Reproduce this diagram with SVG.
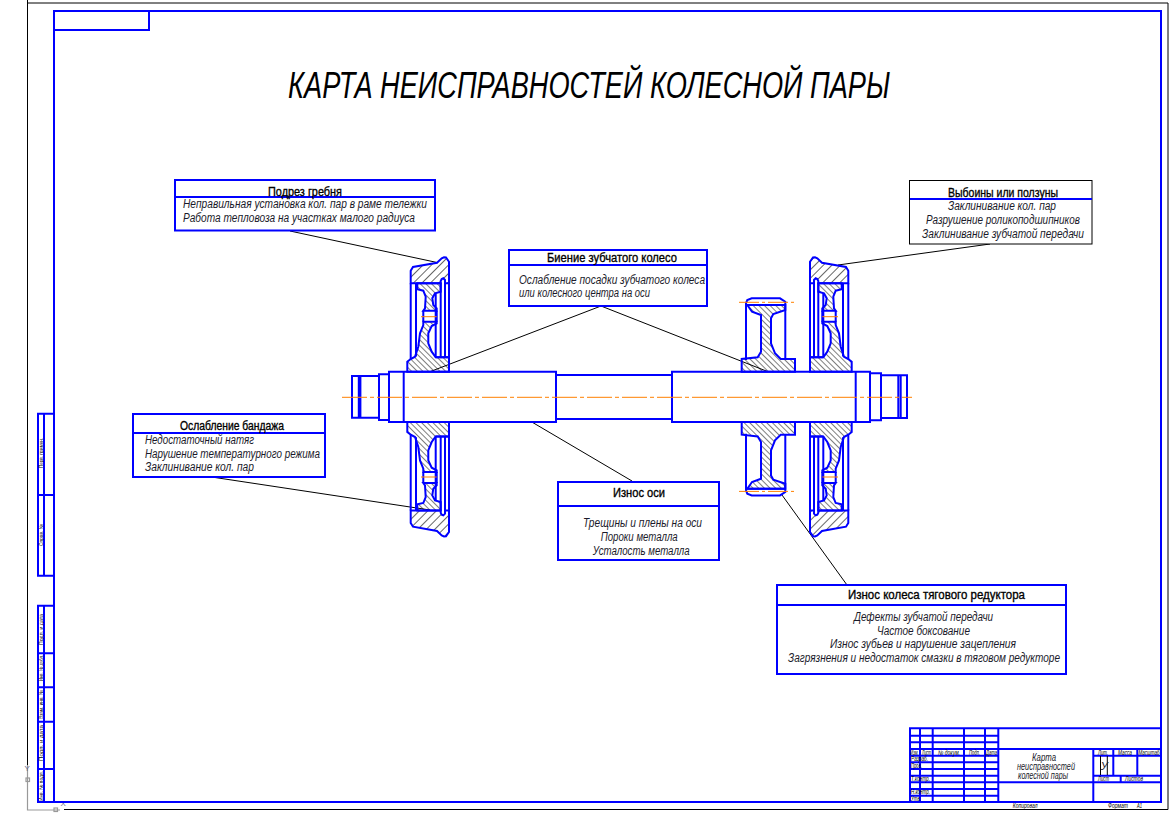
<svg xmlns="http://www.w3.org/2000/svg" xmlns:xlink="http://www.w3.org/1999/xlink" width="1175" height="813" viewBox="0 0 1175 813">
<style>
.b{fill:none;stroke:#0000ff;stroke-width:2}
.box{fill:#fff;stroke:#0000ff;stroke-width:2}
.boxk{fill:#fff;stroke:#000;stroke-width:1}
.k{fill:none;stroke:#000;stroke-width:1}
.o{fill:none;stroke:#ff8000;stroke-width:1}
.dd{stroke-dasharray:20 3 3 3}
text{font-family:"Liberation Sans",Arial,sans-serif;font-style:italic;fill:#1a1a2a}
.t{font-size:12.5px;font-style:normal;fill:#000;stroke:#000;stroke-width:.35}
.l{font-size:12px}
.s{font-size:6.5px;fill:#000}
.r{font-size:5.5px;font-style:normal;fill:#000}
.g{fill:none;stroke:#999;stroke-width:1.2}
</style>
<defs>
<pattern id="hA" patternUnits="userSpaceOnUse" width="6" height="6" patternTransform="rotate(45)"><line x1="0" y1="0" x2="0" y2="6" stroke="#000" stroke-width="1.2"/></pattern>
<pattern id="hAm" patternUnits="userSpaceOnUse" width="6" height="6" patternTransform="rotate(-45)"><line x1="0" y1="0" x2="0" y2="6" stroke="#000" stroke-width="1.2"/></pattern>
<pattern id="hB" patternUnits="userSpaceOnUse" width="4" height="4" patternTransform="rotate(-45)"><line x1="0" y1="0" x2="0" y2="4" stroke="#000" stroke-width="1"/></pattern>
<pattern id="hBm" patternUnits="userSpaceOnUse" width="4" height="4" patternTransform="rotate(45)"><line x1="0" y1="0" x2="0" y2="4" stroke="#000" stroke-width="1"/></pattern>
<path id="tire" d="M410.7 283.3V270.7L413 267L437 262.7L441.7 258.3L444 257.3L446 257.5L449 261.7V283.3H445V280L443.3 278.3L441.7 279L440.7 281V283.3Z"/>
<path id="web" d="M417.3 283.3V289.3L423.3 290.7L425.7 296.7L425 308.3L423.3 310.7H436.7V308.3L433.3 305L432.3 298.3L435 293.3L440.7 291.7V283.3Z"/>
<path id="hub" d="M423.3 321.7H436.7V323.3L431.7 326L428.3 333.3V343.3L431.7 351.7L435.7 357.3H449V371.7H407.3V361.7L410.7 359L415 356.7L418.3 346.7L420 333.3L423.3 325Z"/>
<path id="wl" d="M410.7 283.3V359M416 283.3V356.5M440.7 283.3V357.3M445 283.3V357.3M449 283.3V357.3M435.7 293.3V357.3M435.7 357.3H449M423.3 310.7V321.7M436.7 310.7V321.7"/>
<path id="rim" d="M746 360V303.3L747.3 300L751.7 298.3H780L785.3 301.7V359M746 305H785.3"/>
<path id="gweb" d="M747.3 305L752 311.7L761 315V351.7L757.7 357.3L741.7 359V371.7H795V359H780.7L775 353.3L771 343.3V318.3L773.3 314L785.3 310V305Z"/>
</defs>
<rect width="1175" height="813" fill="#fff"/>

<g id="sheet">
<path class="k" d="M27.5 0V765M64 809.5H1168V3H27.5"/>
<path class="g" d="M27.5 765V810H60"/>
<rect x="26" y="778" width="3.500" height="3.500" class="g"/>
<rect x="54" y="808" width="3.500" height="3.500" class="g"/>
<text x="24.500" y="771" font-size="8" style="font-style:normal;fill:#668">Y</text>
<text x="60.500" y="806" font-size="8" style="font-style:normal;fill:#668">X</text>
<rect class="b" x="54" y="11" width="1107" height="791"/>
<path class="b" d="M54 30H149V11"/>
<path class="b" d="M54 413.700H38V575.700H54M44 413.700V575.700M38 495H54M54 605.700H38V802H54M44 605.700V802M38 653.300H54M38 687.300H54M38 721.700H54M38 769H54"/>
<text class="r" transform="translate(42.500,468) rotate(-90)" textLength="30" lengthAdjust="spacingAndGlyphs">Перв. примен.</text>
<text class="r" transform="translate(42.500,546) rotate(-90)" textLength="22" lengthAdjust="spacingAndGlyphs">Справ. №</text>
<text class="r" transform="translate(42.500,645) rotate(-90)" textLength="31" lengthAdjust="spacingAndGlyphs">Подп. и дата</text>
<text class="r" transform="translate(42.500,681) rotate(-90)" textLength="26" lengthAdjust="spacingAndGlyphs">Инв. № дубл.</text>
<text class="r" transform="translate(42.500,719) rotate(-90)" textLength="29" lengthAdjust="spacingAndGlyphs">Взам. инв. №</text>
<text class="r" transform="translate(42.500,761) rotate(-90)" textLength="36" lengthAdjust="spacingAndGlyphs">Подп. и дата</text>
<text class="r" transform="translate(42.500,801) rotate(-90)" textLength="30" lengthAdjust="spacingAndGlyphs">Инв. № подл.</text>
</g>

<text id="title" x="288" y="98" font-size="36" textLength="602" lengthAdjust="spacingAndGlyphs" style="fill:#000">КАРТА НЕИСПРАВНОСТЕЙ КОЛЕСНОЙ ПАРЫ</text>

<g id="connectors">
<path class="k" d="M290 231L438 262.700"/>
<path class="k" d="M601 306L430 371.700M601 306L768 371.700"/>
<path class="k" d="M215 477.500L430 510"/>
<path class="k" d="M533 422.700L632 481"/>
<path class="k" d="M838 265L990 244"/>
<path class="k" d="M782 495L847 585"/>
</g>

<g id="wheel-left">
<g><use href="#tire" fill="url(#hA)"/><use href="#tire" class="b"/><use href="#web" fill="url(#hB)"/><use href="#web" class="b"/><use href="#hub" fill="url(#hB)"/><use href="#hub" class="b"/><use href="#wl" class="b"/><path class="o" d="M421 316.700H436.700"/></g>
<g transform="matrix(1,0,0,-1,0,793.700)"><use href="#tire" fill="url(#hAm)"/><use href="#tire" class="b"/><use href="#web" fill="url(#hBm)"/><use href="#web" class="b"/><use href="#hub" fill="url(#hBm)"/><use href="#hub" class="b"/><use href="#wl" class="b"/><path class="o" d="M421 316.700H436.700"/></g>
</g>
<g id="wheel-right">
<g transform="matrix(-1,0,0,1,1259,0)"><use href="#tire" fill="url(#hAm)"/><use href="#tire" class="b"/><use href="#web" fill="url(#hBm)"/><use href="#web" class="b"/><use href="#hub" fill="url(#hBm)"/><use href="#hub" class="b"/><use href="#wl" class="b"/><path class="o" d="M421 316.700H436.700"/></g>
<g transform="matrix(-1,0,0,-1,1259,793.700)"><use href="#tire" fill="url(#hA)"/><use href="#tire" class="b"/><use href="#web" fill="url(#hB)"/><use href="#web" class="b"/><use href="#hub" fill="url(#hB)"/><use href="#hub" class="b"/><use href="#wl" class="b"/><path class="o" d="M421 316.700H436.700"/></g>
</g>
<g id="gear">
<g><use href="#rim" class="b"/><use href="#gweb" fill="url(#hB)"/><use href="#gweb" class="b"/><path class="o dd" d="M739 302.300H794"/></g>
<g transform="matrix(1,0,0,-1,0,793.700)"><use href="#rim" class="b"/><use href="#gweb" fill="url(#hBm)"/><use href="#gweb" class="b"/><path class="o dd" d="M739 302.300H794"/></g>
</g>
<g id="shaft">
<path class="b" d="M352 376H379V417.700H352ZM358.800 376V417.700M360.400 376V417.700M379 374.300H389V420H379ZM389 371.700H556V422H389ZM403.700 371.700V422M556 375H672M556 419H672M672 371.700H870V422H672ZM855.700 371.700V422M870 373.300H881V420.300H870M881 375.300H898.300V418H881M898.300 375.300H907V418H898.300ZM900.700 375.300V418"/>
<path class="o" stroke-dasharray="25 3 4 3" d="M342 397.300H912" stroke-width="1"/>
</g>

<g id="box-flange"><rect class="box" x="175" y="180" width="260" height="50.500"/><path class="b" d="M175 197H435"/>
<text class="t" x="268" y="196" textLength="74" lengthAdjust="spacingAndGlyphs">Подрез гребня</text>
<text class="l" x="183" y="208" textLength="244" lengthAdjust="spacingAndGlyphs">Неправильная установка кол. пар в раме тележки</text>
<text class="l" x="183" y="222" textLength="232" lengthAdjust="spacingAndGlyphs">Работа тепловоза на участках малого радиуса</text></g>

<g id="box-runout"><rect class="box" x="509" y="250" width="198" height="56"/><path class="b" d="M509 265H707"/>
<text class="t" x="547" y="262" textLength="130" lengthAdjust="spacingAndGlyphs">Биение зубчатого колесо</text>
<text class="l" x="519" y="284" textLength="186" lengthAdjust="spacingAndGlyphs">Ослабление посадки зубчатого колеса</text>
<text class="l" x="519" y="297" textLength="131" lengthAdjust="spacingAndGlyphs">или колесного центра на оси</text></g>

<g id="box-dents"><rect class="boxk" x="909.500" y="180.500" width="182.500" height="63.500"/><path class="b" d="M910 199H1092"/>
<text class="t" x="948" y="197" textLength="110" lengthAdjust="spacingAndGlyphs">Выбоины или ползуны</text>
<text class="l" x="948" y="210" textLength="108" lengthAdjust="spacingAndGlyphs">Заклинивание кол. пар</text>
<text class="l" x="926" y="224" textLength="154" lengthAdjust="spacingAndGlyphs">Разрушение роликоподшипников</text>
<text class="l" x="922" y="238" textLength="162" lengthAdjust="spacingAndGlyphs">Заклинивание зубчатой передачи</text></g>

<g id="box-tyre"><rect class="box" x="133" y="414" width="192" height="63"/><path class="b" d="M133 433H325"/>
<text class="t" x="180" y="430" textLength="104" lengthAdjust="spacingAndGlyphs">Ослабление бандажа</text>
<text class="l" x="145" y="444" textLength="109" lengthAdjust="spacingAndGlyphs">Недостаточный натяг</text>
<text class="l" x="145" y="458" textLength="175" lengthAdjust="spacingAndGlyphs">Нарушение температурного режима</text>
<text class="l" x="145" y="471" textLength="109" lengthAdjust="spacingAndGlyphs">Заклинивание кол. пар</text></g>

<g id="box-axle"><rect class="box" x="558" y="482" width="161" height="78"/><path class="b" d="M558 506H719"/>
<text class="t" x="613" y="497" textLength="52" lengthAdjust="spacingAndGlyphs">Износ оси</text>
<text class="l" x="583" y="527" textLength="119" lengthAdjust="spacingAndGlyphs">Трещины и плены на оси</text>
<text class="l" x="600.700" y="541" textLength="77" lengthAdjust="spacingAndGlyphs">Пороки металла</text>
<text class="l" x="592.700" y="555" textLength="97" lengthAdjust="spacingAndGlyphs">Усталость металла</text></g>

<g id="box-gear"><rect class="box" x="777" y="585" width="289" height="89"/><path class="b" d="M777 605H1066"/>
<text class="t" x="848" y="599" textLength="177" lengthAdjust="spacingAndGlyphs">Износ колеса тягового редуктора</text>
<text class="l" x="854" y="621" textLength="139" lengthAdjust="spacingAndGlyphs">Дефекты зубчатой передачи</text>
<text class="l" x="877" y="635" textLength="93" lengthAdjust="spacingAndGlyphs">Частое боксование</text>
<text class="l" x="830" y="648" textLength="186" lengthAdjust="spacingAndGlyphs">Износ зубьев и нарушение зацепления</text>
<text class="l" x="788" y="662" textLength="272" lengthAdjust="spacingAndGlyphs">Загрязнения и недостаток смазки в тяговом редукторе</text></g>

<g id="titleblock">
<path class="b" d="M910 802V728.300H1161M920 728.300V802M932.700 728.300V802M964 728.300V802M985 728.300V802M998.300 728.300V802M910 735.700H998.300M910 742.300H998.300M910 749H1161M910 755.700H998.300M910 762.300H998.300M910 769H998.300M910 775.700H998.300M910 782.300H1161M910 789H998.300M910 795.700H998.300M1093.300 749V802M1093.300 755.700H1161M1093.300 775.700H1161M1113.300 749V775.700M1137.300 749V775.700M1120.700 775.700V782.300"/>
<path class="k" d="M1100.500 756V775M1107.300 756V775"/>
<text class="s" x="910.500" y="754.500" textLength="8" lengthAdjust="spacingAndGlyphs">Изм.</text>
<text class="s" x="922" y="754.500" textLength="9" lengthAdjust="spacingAndGlyphs">Лист</text>
<text class="s" x="938" y="754.500" textLength="22" lengthAdjust="spacingAndGlyphs">№ докум.</text>
<text class="s" x="969" y="754.500" textLength="11" lengthAdjust="spacingAndGlyphs">Подп.</text>
<text class="s" x="986" y="754.500" textLength="11" lengthAdjust="spacingAndGlyphs">Дата</text>
<text class="s" x="911" y="761" textLength="17" lengthAdjust="spacingAndGlyphs">Разраб.</text>
<text class="s" x="911" y="768" textLength="11" lengthAdjust="spacingAndGlyphs">Пров.</text>
<text class="s" x="911" y="781" textLength="19" lengthAdjust="spacingAndGlyphs">Т.контр.</text>
<text class="s" x="911" y="794" textLength="19" lengthAdjust="spacingAndGlyphs">Н.контр.</text>
<text class="s" x="911" y="801" textLength="10" lengthAdjust="spacingAndGlyphs">Утв.</text>
<text class="l" x="1032" y="760.700" style="font-size:10px" textLength="24" lengthAdjust="spacingAndGlyphs">Карта</text>
<text class="l" x="1017" y="770" style="font-size:10px" textLength="58" lengthAdjust="spacingAndGlyphs">неисправностей</text>
<text class="l" x="1018" y="779" style="font-size:10px" textLength="50" lengthAdjust="spacingAndGlyphs">колесной пары</text>
<text class="s" x="1098" y="754.500" textLength="10" lengthAdjust="spacingAndGlyphs">Лит.</text>
<text class="s" x="1118" y="754.500" textLength="14" lengthAdjust="spacingAndGlyphs">Масса</text>
<text class="s" x="1138.500" y="754.500" textLength="21" lengthAdjust="spacingAndGlyphs">Масштаб</text>
<text class="l" x="1100.800" y="769.500" style="font-size:11px">У</text>
<text class="s" x="1098" y="781" textLength="11" lengthAdjust="spacingAndGlyphs">Лист</text>
<text class="s" x="1125" y="781" textLength="18" lengthAdjust="spacingAndGlyphs">Листов</text>
<text class="s" x="1012.700" y="808" textLength="25" lengthAdjust="spacingAndGlyphs">Копировал</text>
<text class="s" x="1108" y="808" textLength="20" lengthAdjust="spacingAndGlyphs">Формат</text>
<text class="s" x="1137" y="808" textLength="5" lengthAdjust="spacingAndGlyphs">А1</text>
</g>
</svg>
